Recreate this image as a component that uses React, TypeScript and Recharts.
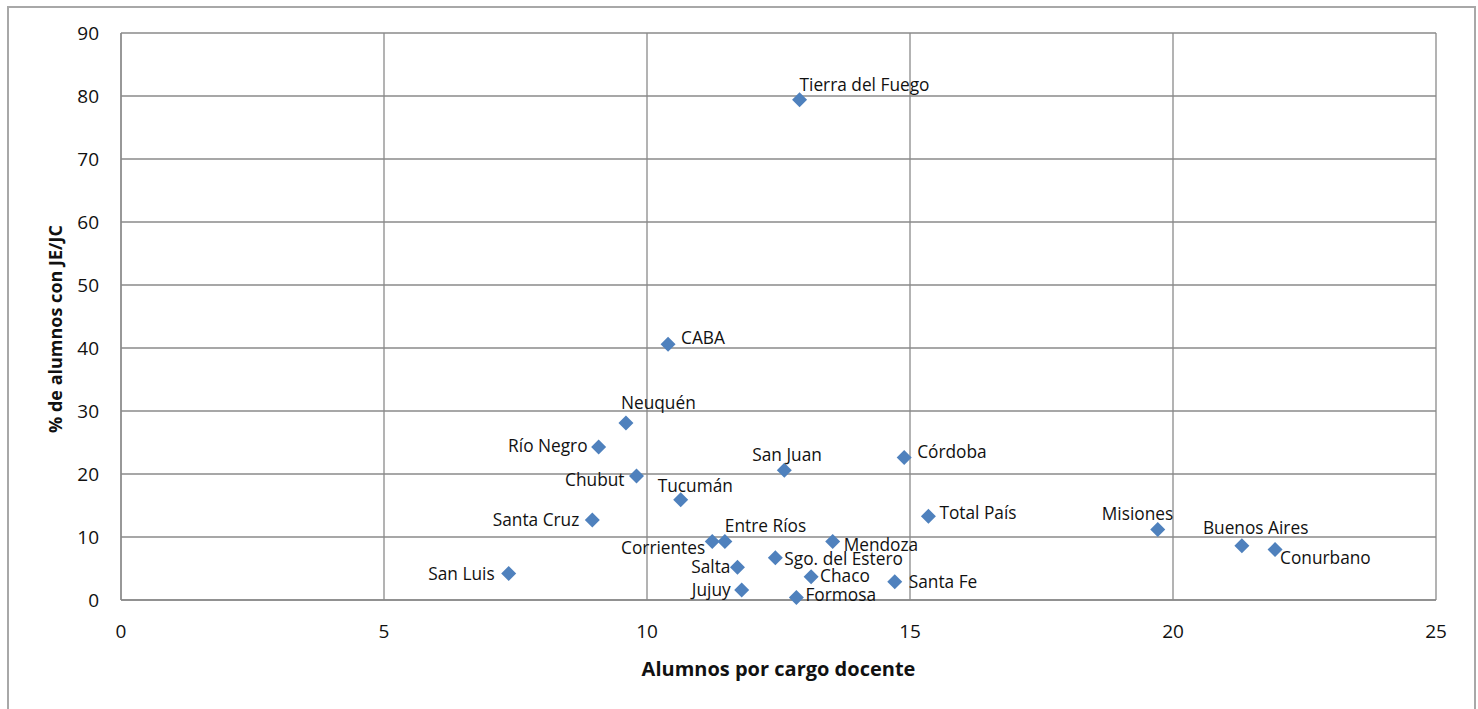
import React from "react";
import { ScatterChart, Scatter, XAxis, YAxis, CartesianGrid, Label } from "recharts";

const provinces = [
  "Tierra del Fuego", "CABA", "Neuquén", "Río Negro", "Chubut", "Tucumán", "San Juan",
  "Córdoba", "Total País", "Santa Cruz", "Corrientes", "Entre Ríos", "Mendoza",
  "Sgo. del Estero", "Salta", "San Luis", "Chaco", "Santa Fe", "Jujuy", "Formosa",
  "Misiones", "Buenos Aires", "Conurbano",
];
const alumnosPorCargo = [
  12.9, 10.4, 9.6, 9.08, 9.8, 10.64, 12.61,
  14.89, 15.35, 8.96, 11.24, 11.48, 13.53,
  12.44, 11.72, 7.37, 13.12, 14.71, 11.8, 12.84,
  19.71, 21.31, 21.94,
];
const pctJornadaExtendida = [
  79.4, 40.6, 28.1, 24.3, 19.7, 15.9, 20.6,
  22.6, 13.3, 12.7, 9.3, 9.3, 9.3,
  6.7, 5.2, 4.2, 3.7, 2.9, 1.6, 0.4,
  11.2, 8.6, 8.0,
];
const xTicks = [0, 5, 10, 15, 20, 25];
const yTicks = [0, 10, 20, 30, 40, 50, 60, 70, 80, 90];

const data = provinces.map((name, i) => ({ name, x: alumnosPorCargo[i], y: pctJornadaExtendida[i] }));

// label placement (style only)
const placement: Record<string, [number, number, "start" | "end"]> = {
  "Tierra del Fuego": [0, -15, "start"],
  "CABA": [13, -7, "start"],
  "Neuquén": [-5, -20, "start"],
  "Río Negro": [-11, -1, "end"],
  "Chubut": [-12, 4, "end"],
  "Tucumán": [-23, -14, "start"],
  "San Juan": [-32, -16, "start"],
  "Córdoba": [13, -6, "start"],
  "Total País": [11, -4, "start"],
  "Santa Cruz": [-13, 0, "end"],
  "Corrientes": [-7, 6, "end"],
  "Entre Ríos": [0, -16, "start"],
  "Mendoza": [11, 3, "start"],
  "Sgo. del Estero": [9, 1, "start"],
  "Salta": [-7, -1, "end"],
  "San Luis": [-14, 0, "end"],
  "Chaco": [9, -1, "start"],
  "Santa Fe": [14, 0, "start"],
  "Jujuy": [-11, 0, "end"],
  "Formosa": [9, -3, "start"],
  "Misiones": [-56, -16, "start"],
  "Buenos Aires": [-39, -18, "start"],
  "Conurbano": [5, 8, "start"],
};

const FONT = "'Open Sans', 'Noto Sans', sans-serif";

const Diamond = (props: any) => {
  const { cx, cy } = props;
  const r = 7.5;
  return <path d={`M${cx},${cy - r}L${cx + r},${cy}L${cx},${cy + r}L${cx - r},${cy}Z`} fill="#4F81BD" />;
};

const PointLabel = (props: any) => {
  const { cx, cy, payload } = props;
  const p = placement[payload.name] || [10, 0, "start"];
  return (
    <text x={cx + p[0]} y={cy + p[1]} textAnchor={p[2]} dominantBaseline="central"
      fontFamily={FONT} fontSize={17.3} fill="#111">
      {payload.name}
    </text>
  );
};

export default function App() {
  return (
    <div style={{ position: "fixed", left: 0, top: 0, width: 1478, height: 709, overflow: "hidden", background: "#fff" }}>
      <div style={{ position: "absolute", left: 7, top: 6, width: 1469, height: 720, border: "2px solid #a8a8a8", boxSizing: "border-box" }} />
      <ScatterChart width={1462} height={701} margin={{ top: 25, right: 34, left: 63, bottom: 69 }}
        style={{ position: "absolute", left: 8, top: 8 }}>
        <CartesianGrid stroke="#8a8a8a" strokeWidth={1.3} />
        <XAxis type="number" dataKey="x" domain={[0, 25]} ticks={xTicks} height={40}
          axisLine={{ stroke: "#8a8a8a", strokeWidth: 1.3 }} tickLine={false} tickSize={0} tickMargin={25}
          tick={{ fontFamily: FONT, fontSize: 19, fill: "#111" }} interval={0}>
          <Label value="Alumnos por cargo docente" position="bottom" offset={22}
            style={{ fontFamily: FONT, fontSize: 20, fontWeight: 700, fill: "#111" }} />
        </XAxis>
        <YAxis type="number" dataKey="y" domain={[0, 90]} ticks={yTicks} width={50}
          axisLine={{ stroke: "#8a8a8a", strokeWidth: 1.3 }} tickLine={false} tickSize={0} tickMargin={22}
          tick={{ fontFamily: FONT, fontSize: 19, fill: "#111" }} interval={0} />
        <Scatter data={data} shape={Diamond} isAnimationActive={false} />
        <Scatter data={data} shape={PointLabel} isAnimationActive={false} />
        <text x={47} y={321} transform="rotate(-90 47 321)" textAnchor="middle" dominantBaseline="central"
          fontFamily={FONT} fontSize={18} fontWeight={700} fill="#111">
          % de alumnos con JE/JC
        </text>
      </ScatterChart>
    </div>
  );
}
